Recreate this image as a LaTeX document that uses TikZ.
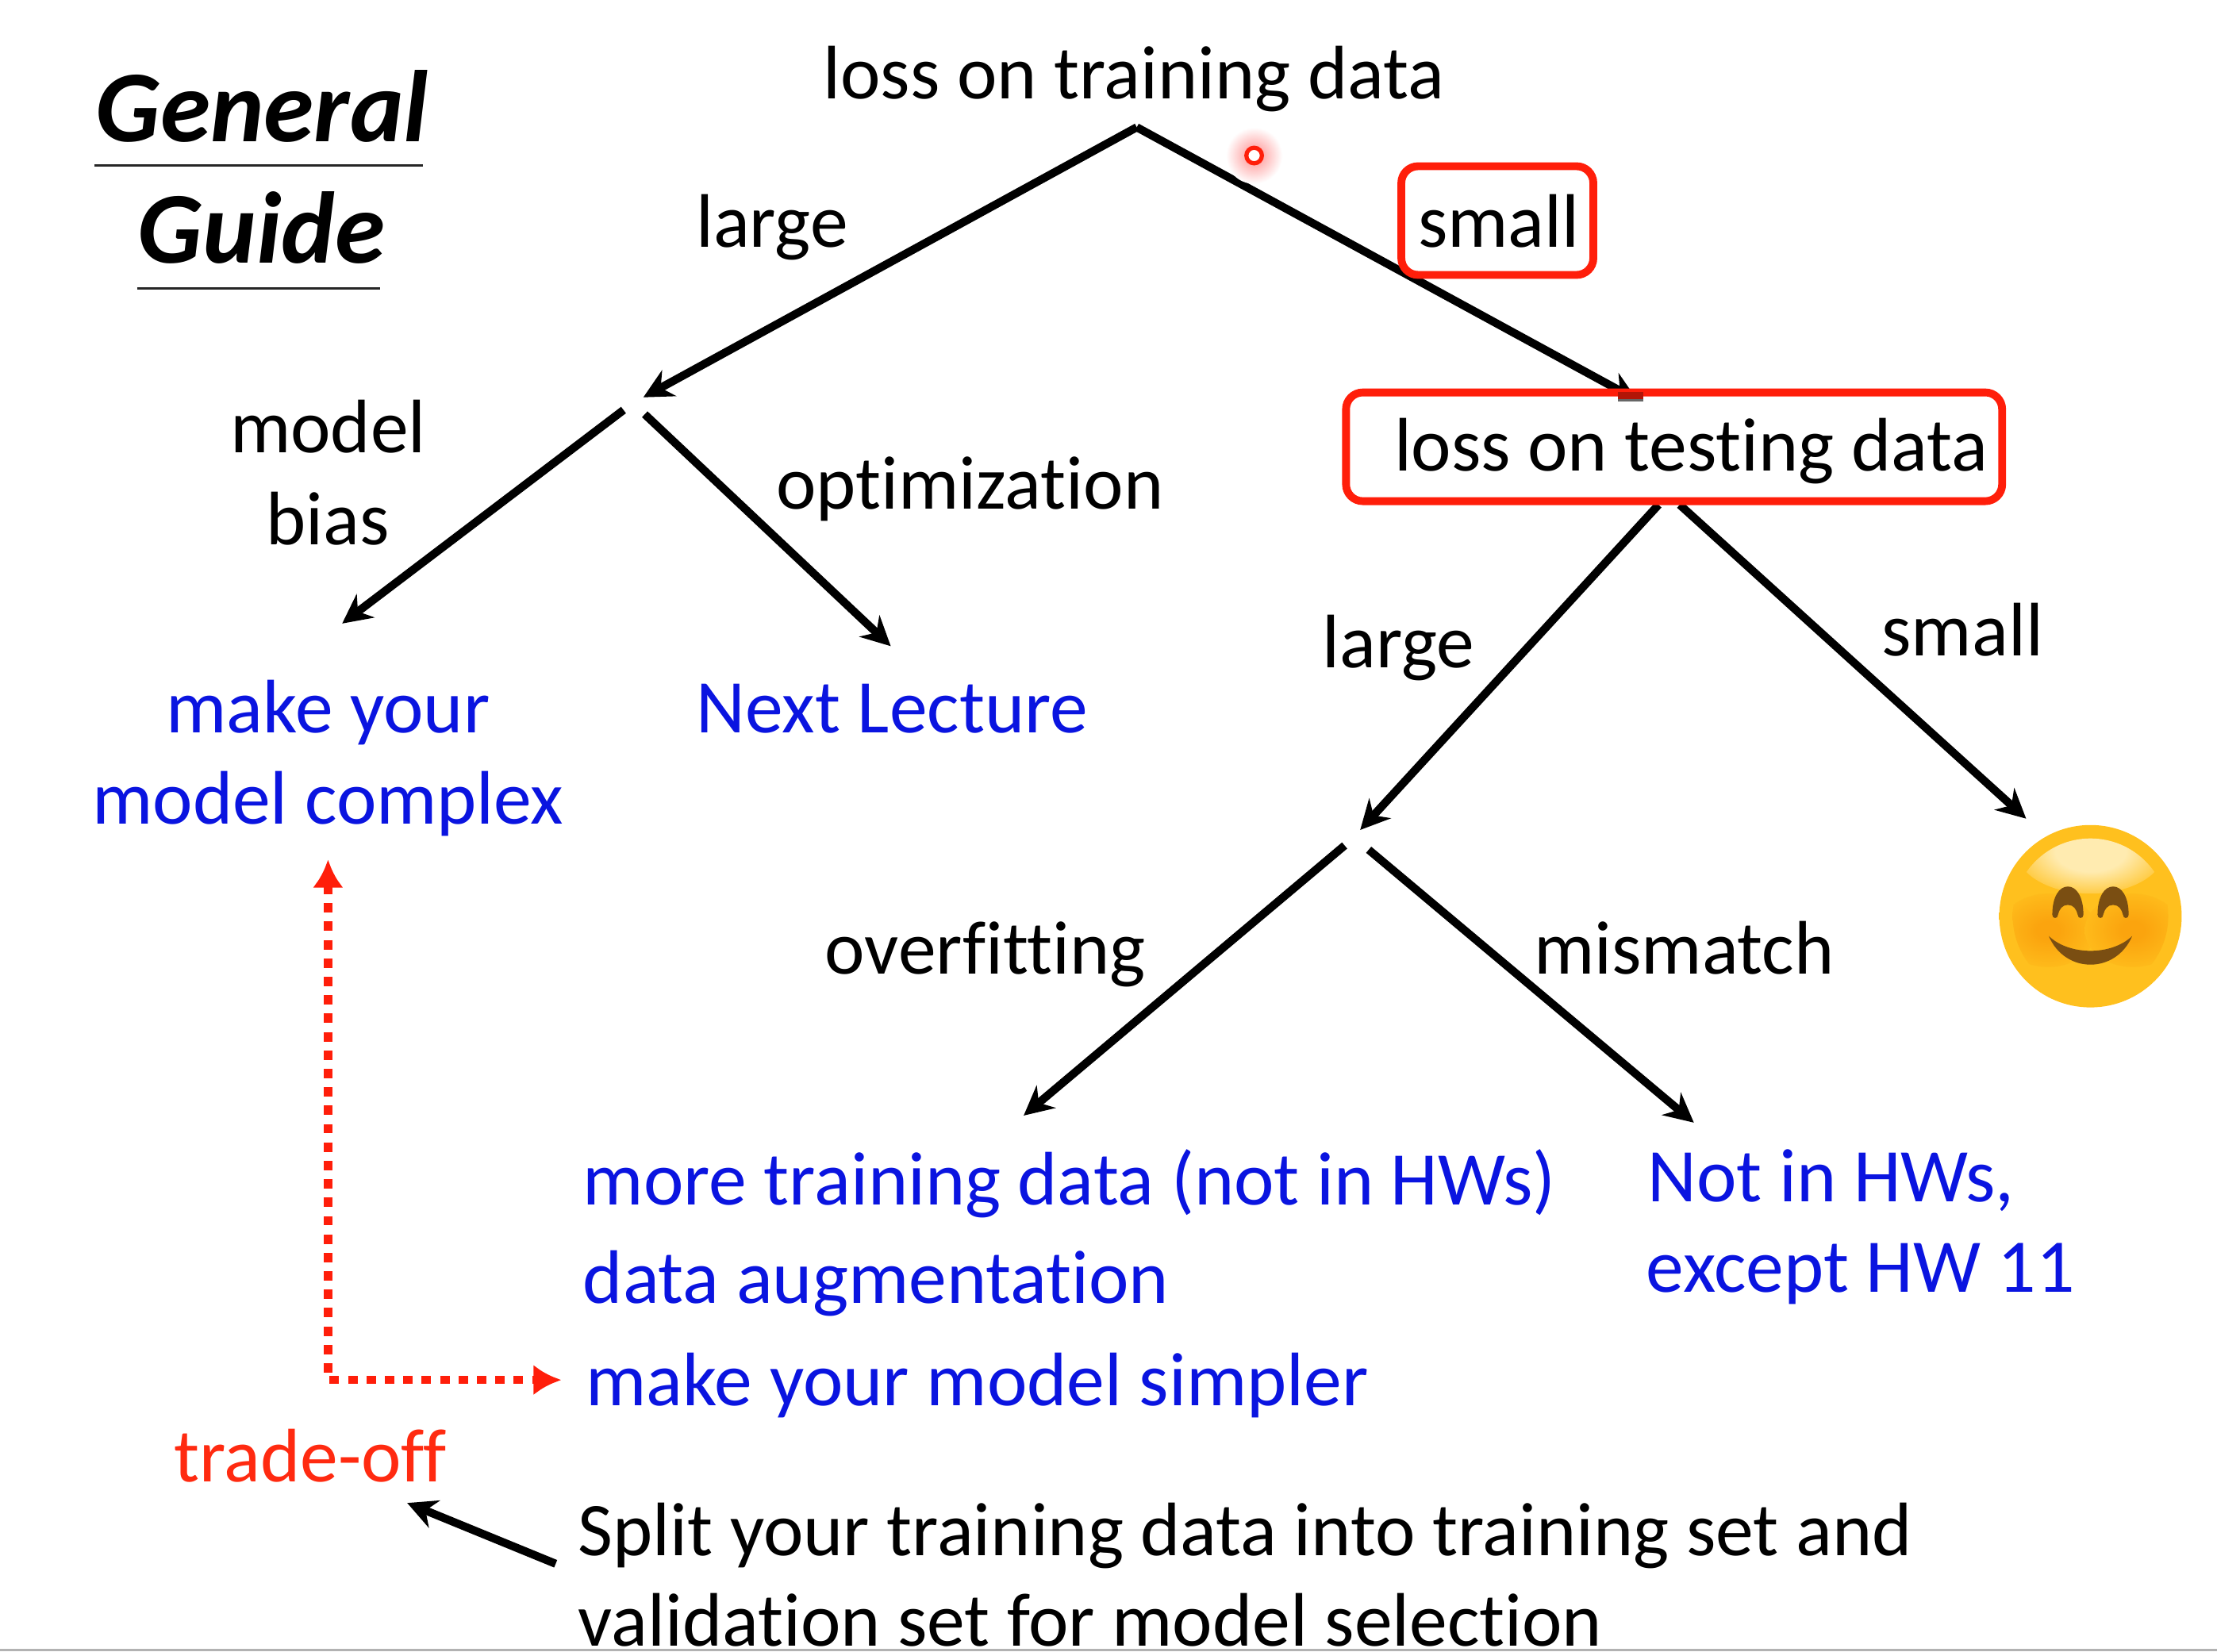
\documentclass[tikz,border=0pt]{standalone}
\usepackage{fontspec}
\setmainfont[Ligatures={NoCommon,NoContextual,NoDiscretionary,NoHistoric}]{Carlito}
\usetikzlibrary{arrows.meta}
\definecolor{txtblue}{HTML}{0A14E0}
\definecolor{txtred}{HTML}{FF2A10}
\definecolor{boxred}{HTML}{FF1E0A}
\definecolor{facebase}{HTML}{FFC01E}
\definecolor{faceedge}{HTML}{F7A012}
\definecolor{facehigh}{HTML}{FFEBB0}
\definecolor{faceblush}{HTML}{FBA40E}
\definecolor{facebrown}{HTML}{7A4E12}
\pgfdeclareradialshading{facebody}{\pgfpointorigin}{color(0bp)=(facebase); color(42bp)=(facebase); color(50bp)=(faceedge)}
\pgfdeclareradialshading{facetop}{\pgfpointorigin}{color(0bp)=(facehigh); color(12bp)=(facehigh); color(30bp)=(facebase); color(50bp)=(facebase)}
\pgfdeclareradialshading{faceside}{\pgfpointorigin}{color(0bp)=(faceblush); color(6bp)=(faceblush); color(30bp)=(facebase); color(50bp)=(facebase)}
\begin{document}
\begin{tikzpicture}[x=0.01782cm,y=-0.01782cm,
  lab/.style={inner sep=0pt,font=\fontsize{27.2}{27.2}\selectfont,text=black,anchor=base},
  labl/.style={lab,anchor=base west},
  blu/.style={text=txtblue},
  titl/.style={inner sep=0pt,anchor=base,font=\fontsize{36.5}{36.5}\selectfont\bfseries\itshape},
  arr/.style={line width=2.9pt,-{Stealth[length=10.5pt,width=10.5pt]}},
  rbox/.style={draw=boxred,fill=white,line width=2.8pt,rounded corners=6pt,inner sep=0pt},
  dots/.style={draw=boxred,line width=3pt,dash pattern=on 3.4pt off 3.2pt,
     {Latex[length=10pt,width=11pt,fill=boxred]}-{Latex[length=10pt,width=11pt,fill=boxred]}},
  rule/.style={line width=0.7pt,draw=black!85}]
\useasboundingbox (0,0) rectangle (1568,1168);
\fill[white] (0,0) rectangle (1568,1168);

% title
\node[titl] (gen) at (185.5,100) {General};
\node[titl] (gui) at (185,186) {Guide};
\coordinate (g1) at (67,117); \coordinate (g2) at (299,117);
\coordinate (h1) at (97,204); \coordinate (h2) at (269,204);
\draw[rule] (g1) -- (g2);
\draw[rule] (h1) -- (h2);

% junctions
\coordinate (root) at (804,90);
\coordinate (j1) at (455,281);
\coordinate (j1a) at (441,290);
\coordinate (j1b) at (456,293);
\coordinate (t1) at (242,441);
\coordinate (t2) at (630,457);
\coordinate (k0) at (1158,283);
\coordinate (k1) at (1173,357);
\coordinate (k2) at (1188,357);
\coordinate (j2) at (962,587);
\coordinate (t3) at (1433,579);
\coordinate (j2a) at (951,598);
\coordinate (j2b) at (968,601);
\coordinate (t4) at (724,789);
\coordinate (t5) at (1198,794);
\coordinate (d1) at (232,608);
\coordinate (d2) at (232,976);
\coordinate (d3) at (397,976);
\coordinate (s1) at (393,1106);
\coordinate (s2) at (288,1063);

% connectors beneath the boxes
\draw[arr] (root) -- (j1);
\draw[arr] (root) -- (k0);
\draw[arr] (j1a) -- (t1);
\draw[arr] (j1b) -- (t2);
\draw[arr] (k1) -- (j2);
\draw[arr] (k2) -- (t3);
\draw[arr] (j2a) -- (t4);
\draw[arr] (j2b) -- (t5);
\draw[arr] (s1) -- (s2);
\draw[dots] (d1) -- (d2) -- (d3);

% boxes
\node[rbox,minimum width=2.42cm,minimum height=1.37cm] (smallbox) at (1059,156) {};
\node[rbox,minimum width=8.27cm,minimum height=1.37cm] (testbox) at (1184,316) {};
% arrow tip showing through the box edge
\fill[black!30!boxred] (1144,277.5) rectangle (1162,282);
\fill[black!60] (1144,282) rectangle (1162,284);

% labels
\node[lab] (train) at (802,70) {loss on training data};
\node[lab] (l1) at (546,175) {large};
\node[lab] (s1t) at (1060,175) {small};
\node[lab] (mod) at (232,320) {model};
\node[lab] (bia) at (232,385) {bias};
\node[lab] (opt) at (686,360) {optimization};
\node[lab] (test) at (1196,333) {loss on testing data};
\node[lab] (l2) at (989,472) {large};
\node[lab] (s2t) at (1388,464) {small};
\node[lab] (over) at (697,689) {overfitting};
\node[lab] (mis) at (1191,689) {mismatch};
\node[lab,blu] (my) at (232,518) {make your};
\node[lab,blu] (mc) at (232,583) {model complex};
\node[lab,blu] (next) at (631,518) {Next Lecture};
\node[labl,blu] (mt) at (412,852) {more training data (not in HWs)};
\node[labl,blu] (da) at (412,922) {data augmentation};
\node[labl,blu] (ms) at (414,994) {make your model simpler};
\node[labl,blu] (nh) at (1165,850) {Not in HWs,};
\node[labl,blu] (ex) at (1164,914) {except HW 11};
\node[lab,text=txtred] (trade) at (219.5,1048) {trade-off};
\node[labl] (sp) at (408.5,1100) {Split your training data into training set and};
\node[labl] (va) at (408.5,1164) {validation set for model selection};

% laser pointer
\shade[inner color=red!45,outer color=white] (887,110) circle (20);
\draw[draw=boxred,fill=white,line width=1.5pt] (887,110) circle (5.5);

% smiley
\begin{scope}[shift={(1478.5,648)}]
  \shade[shading=facebody] (0,0) circle (64.5);
  \begin{scope}
    \clip (0,0) circle (55);
    \shade[shading=facetop] (0,-46) ellipse (52 and 30);
    \shade[shading=faceside] (-30,10) ellipse (34 and 26);
    \shade[shading=faceside] (30,10) ellipse (34 and 26);
  \end{scope}
  \fill[facebrown] (-27,-1) .. controls (-27,-14) and (-22,-21) .. (-16,-21)
     .. controls (-10,-21) and (-5,-14) .. (-5,-1) .. controls (-5,2) and (-9,2) .. (-9,-1)
     .. controls (-10,-5) and (-12,-8) .. (-16,-8) .. controls (-20,-8) and (-22,-5) .. (-23,-1)
     .. controls (-23,2) and (-27,2) .. (-27,-1) -- cycle;
  \fill[facebrown] (5,-1) .. controls (5,-14) and (10,-21) .. (16,-21)
     .. controls (22,-21) and (27,-14) .. (27,-1) .. controls (27,2) and (23,2) .. (23,-1)
     .. controls (22,-5) and (20,-8) .. (16,-8) .. controls (12,-8) and (10,-5) .. (9,-1)
     .. controls (9,2) and (5,2) .. (5,-1) -- cycle;
  \fill[facebrown] (-29.5,14) .. controls (-18,41) and (18,41) .. (29.5,14)
     .. controls (15,28) and (-15,28) .. (-29.5,14) -- cycle;
\end{scope}

% screen edge
\fill[black!30] (0,1166) rectangle (1568,1168);
\end{tikzpicture}
\end{document}
